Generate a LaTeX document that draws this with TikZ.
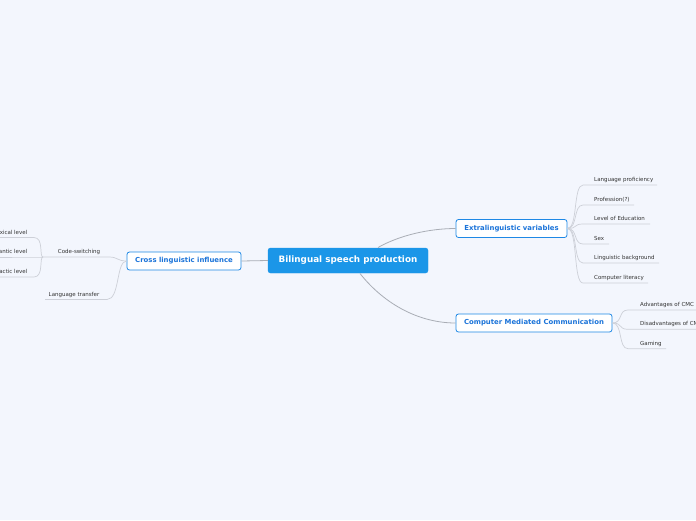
\documentclass[tikz,border=0pt]{standalone}
\usepackage{fontspec}
\setmainfont{DejaVu Sans}
\definecolor{bgcol}{HTML}{F3F6FD}
\definecolor{rootblue}{HTML}{1B96E8}
\definecolor{mainblue}{HTML}{1E88E5}
\definecolor{textblue}{HTML}{1A73D9}
\definecolor{leafgray}{HTML}{333333}
\definecolor{linegray}{HTML}{A9ADB5}
\definecolor{sublinegray}{HTML}{CDD0D8}
\begin{document}
\begin{tikzpicture}[x=1pt,y=-1pt,
  rootbox/.style={draw=rootblue, fill=rootblue, rounded corners=2.5pt, text=white,
    font=\bfseries\fontsize{8.8}{10}\selectfont, minimum width=160pt, minimum height=25pt, inner sep=0pt},
  mainbox/.style={draw=mainblue, line width=0.8pt, fill=white, rounded corners=2.5pt, text=textblue,
    font=\bfseries\fontsize{6.9}{8}\selectfont, minimum height=18pt, inner sep=0pt},
  leaf/.style={font=\fontsize{5.5}{6.5}\selectfont, text=leafgray, inner sep=0pt},
  mainline/.style={draw=linegray, line width=0.8pt},
  subline/.style={draw=sublinegray, line width=0.7pt},
]
\fill[bgcol] (0,0) rectangle (696,520);
\useasboundingbox (0,0) rectangle (696,520);

% main nodes
\node[rootbox] (root) at (348,260.5) {\raisebox{-1pt}{Bilingual speech production}};
\node[mainbox, minimum width=114pt] (cli) at (184,261) {\raisebox{-0.8pt}{Cross linguistic influence}};
\node[mainbox, minimum width=111pt] (ext) at (511.5,228.5) {\raisebox{-0.8pt}{Extralinguistic variables}};
\node[mainbox, minimum width=156pt] (cmc) at (534,323) {\raisebox{-0.8pt}{Computer Mediated Communication}};

\draw[mainline] (root.west) -- (cli.east);
\coordinate (rtop) at (378,247.5);
\coordinate (rbot) at (360,273.5);
\draw[mainline] (rtop) .. controls (400,235) and (430,228.5) .. (ext.west);
\draw[mainline] (rbot) .. controls (385,305) and (420,323) .. (cmc.west);

% Extralinguistic leaves
\foreach \i/\y/\e/\t in {1/179/657/Language proficiency, 2/199/634/Profession(?), 3/218/650/Level of Education,
  4/238/609/Sex, 5/257/659/Linguistic background, 6/277/648/Computer literacy}{
  \node[leaf, anchor=west] (e\i) at (594,\y+0.8) {\t};
  \coordinate (es\i) at (583,\y+6);
  \coordinate (ee\i) at (\e,\y+6);
  \draw[subline] (ext.east) .. controls (578,228.5) and (573,\y+6) .. (es\i) -- (ee\i);
}

% CMC leaves
\foreach \i/\y/\e/\t in {1/304/700/Advantages of CMC, 2/323.3/700/Disadvantages of CMC, 3/342.7/666/Gaming}{
  \node[leaf, anchor=west] (c\i) at (640,\y+0.8) {\t};
  \coordinate (cs\i) at (628,\y+6);
  \coordinate (ce\i) at (\e,\y+6);
  \draw[subline] (cmc.east) .. controls (623,323) and (618,\y+6) .. (cs\i) -- (ce\i);
}

% Cross linguistic leaves
\node[leaf] (cs) at (79,251.8) {Code-switching};
\node[leaf] (lt) at (74,294.5) {Language transfer};
\coordinate (csr) at (109,257);
\coordinate (csl) at (43,257);
\coordinate (ltr) at (107,299.5);
\coordinate (ltl) at (45,299.5);
\draw[subline] (cli.west) .. controls (117,261) and (118,257) .. (csr) -- (csl);
\draw[subline] (cli.west) .. controls (116,261) and (120,299.5) .. (ltr) -- (ltl);

% Code-switching sub-leaves
\foreach \i/\y/\t in {1/231.5/Lexical level, 2/251/Semantic level, 3/271/Syntactic level}{
  \node[leaf, anchor=east] (g\i) at (27.5,\y+0.8) {\t};
  \coordinate (gs\i) at (34,\y+6);
  \coordinate (ge\i) at (-10,\y+6);
  \draw[subline] (csl) .. controls (39,257) and (44,\y+6) .. (gs\i) -- (ge\i);
}
\end{tikzpicture}
\end{document}
